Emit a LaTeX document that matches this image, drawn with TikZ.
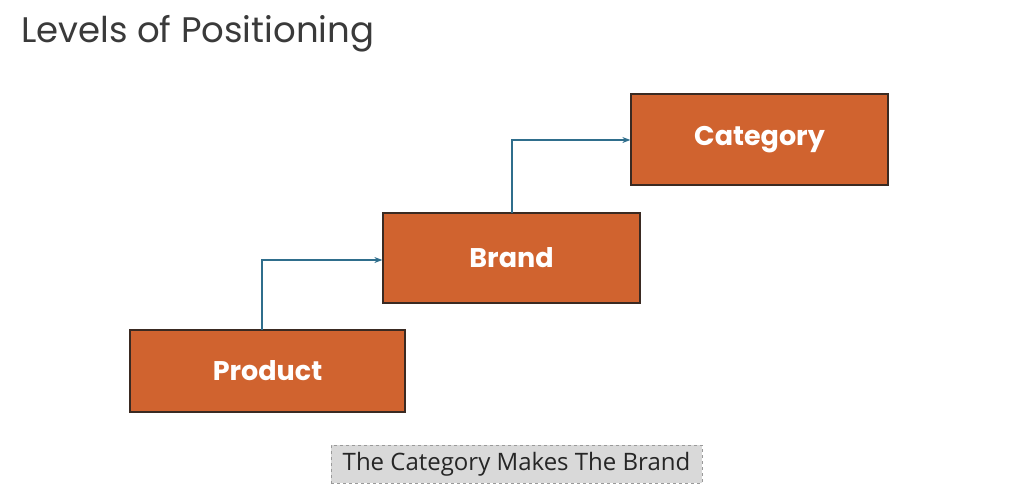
\documentclass[tikz,border=0pt]{standalone}
\usepackage{fontspec}
\setmainfont{Poppins}
\newfontfamily\capfont{Open Sans}
\usetikzlibrary{arrows.meta}
\definecolor{boxorange}{HTML}{D0632F}
\definecolor{boxedge}{HTML}{3A2A22}
\definecolor{linkblue}{HTML}{2F6E8C}
\definecolor{titlegray}{HTML}{3A3A3A}
\definecolor{capfill}{HTML}{D9D9D9}
\definecolor{capedge}{HTML}{9A9A9A}
\tikzset{
  levelbox/.style={draw=boxedge, line width=1.3pt, fill=boxorange, text=white,
    font=\fontsize{27pt}{31pt}\selectfont\bfseries, inner sep=0pt},
  link/.style={draw=linkblue, line width=1.1pt, -{Stealth[length=8pt,width=6pt]}},
}
\begin{document}
\begin{tikzpicture}[x=1pt,y=1pt]
\useasboundingbox[fill=white] (0,0) rectangle (1024,-495);
\node[anchor=west, text=titlegray, font=\fontsize{35.5pt}{40pt}\selectfont, inner sep=0pt] (title) at (21,-34) {Levels of Positioning};
\node[levelbox, minimum width=275pt, minimum height=82pt] (product) at (267.5,-371) {Product};
\node[levelbox, minimum width=257pt, minimum height=90pt] (brand) at (511.5,-258) {Brand};
\node[levelbox, minimum width=257pt, minimum height=91pt] (category) at (759.5,-139.5) {Category};
\coordinate (p1) at (262,-330);
\coordinate (b1) at (512,-213);
\draw[link] (p1) |- (brand.west |- 0,-260);
\draw[link] (b1) |- (category.west |- 0,-140);
\node[draw=capedge, dashed, line width=0.8pt, fill=capfill, minimum width=371pt, minimum height=38pt, inner sep=0pt, font=\capfont\fontsize{24pt}{28pt}\selectfont, text=black!85] (caption) at (516.5,-464) {The Category Makes The Brand};
\end{tikzpicture}
\end{document}
